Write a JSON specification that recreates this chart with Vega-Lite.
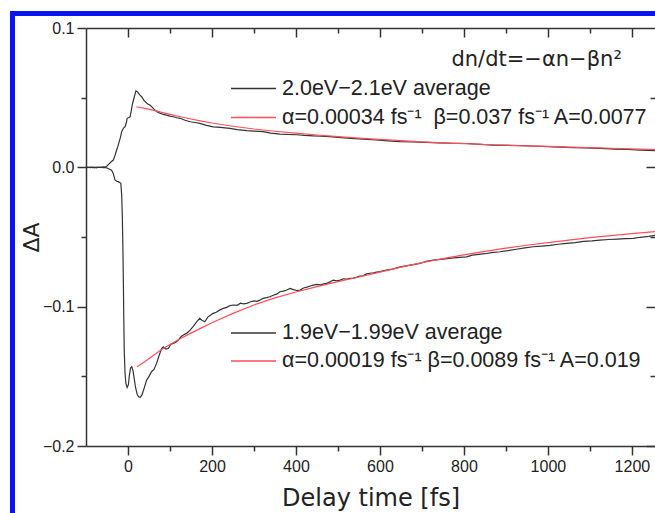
{
  "$schema": "https://vega.github.io/schema/vega-lite/v6.json",
  "width": 569,
  "height": 418,
  "autosize": {"type": "none"},
  "padding": {"left": 86, "top": 28, "right": 0, "bottom": 67},
  "background": "white",
  "config": {
    "view": {"stroke": null},
    "font": "Liberation Sans",
    "axis": {
      "domainColor": "#333333",
      "domainWidth": 1.5,
      "tickColor": "#333333",
      "tickWidth": 1.5,
      "labelColor": "#222222",
      "labelFontSize": 16,
      "labelFont": "Liberation Sans",
      "titleFont": "DejaVu Sans",
      "titleFontWeight": "normal",
      "titleColor": "#222222",
      "titleFontSize": 24,
      "gridColor": "#333333",
      "gridWidth": 1.5,
      "gridOpacity": 1,
      "zindex": 1
    },
    "legend": {
      "orient": "none",
      "title": null,
      "symbolType": "stroke",
      "symbolSize": 2025,
      "symbolStrokeWidth": 1.3,
      "labelFontSize": 21.5,
      "labelFont": "Liberation Sans",
      "labelColor": "#222222",
      "labelOffset": 5,
      "labelLimit": 600,
      "padding": 0,
      "rowPadding": 0
    }
  },
  "datasets": {
    "top": [
      {"t": -100, "dA": 0.0, "series": "2.0eV−2.1eV average"},
      {"t": -95, "dA": -0.0003, "series": "2.0eV−2.1eV average"},
      {"t": -90, "dA": 0.0002, "series": "2.0eV−2.1eV average"},
      {"t": -85, "dA": -0.0002, "series": "2.0eV−2.1eV average"},
      {"t": -80, "dA": 0.0001, "series": "2.0eV−2.1eV average"},
      {"t": -75, "dA": -0.0003, "series": "2.0eV−2.1eV average"},
      {"t": -70, "dA": 0.0002, "series": "2.0eV−2.1eV average"},
      {"t": -65, "dA": -0.0001, "series": "2.0eV−2.1eV average"},
      {"t": -60, "dA": 0.0003, "series": "2.0eV−2.1eV average"},
      {"t": -55, "dA": 0.0001, "series": "2.0eV−2.1eV average"},
      {"t": -50, "dA": 0.001, "series": "2.0eV−2.1eV average"},
      {"t": -45, "dA": 0.0025, "series": "2.0eV−2.1eV average"},
      {"t": -40, "dA": 0.004, "series": "2.0eV−2.1eV average"},
      {"t": -35, "dA": 0.0052, "series": "2.0eV−2.1eV average"},
      {"t": -31, "dA": 0.0085, "series": "2.0eV−2.1eV average"},
      {"t": -27, "dA": 0.0124, "series": "2.0eV−2.1eV average"},
      {"t": -24, "dA": 0.015, "series": "2.0eV−2.1eV average"},
      {"t": -21, "dA": 0.0184, "series": "2.0eV−2.1eV average"},
      {"t": -18, "dA": 0.0215, "series": "2.0eV−2.1eV average"},
      {"t": -15, "dA": 0.0256, "series": "2.0eV−2.1eV average"},
      {"t": -11, "dA": 0.028, "series": "2.0eV−2.1eV average"},
      {"t": -7, "dA": 0.0291, "series": "2.0eV−2.1eV average"},
      {"t": -4, "dA": 0.032, "series": "2.0eV−2.1eV average"},
      {"t": -2, "dA": 0.0352, "series": "2.0eV−2.1eV average"},
      {"t": 2, "dA": 0.0358, "series": "2.0eV−2.1eV average"},
      {"t": 5, "dA": 0.0363, "series": "2.0eV−2.1eV average"},
      {"t": 8, "dA": 0.041, "series": "2.0eV−2.1eV average"},
      {"t": 11, "dA": 0.046, "series": "2.0eV−2.1eV average"},
      {"t": 15, "dA": 0.0505, "series": "2.0eV−2.1eV average"},
      {"t": 19, "dA": 0.055, "series": "2.0eV−2.1eV average"},
      {"t": 23, "dA": 0.054, "series": "2.0eV−2.1eV average"},
      {"t": 28, "dA": 0.052, "series": "2.0eV−2.1eV average"},
      {"t": 33, "dA": 0.0505, "series": "2.0eV−2.1eV average"},
      {"t": 38, "dA": 0.048, "series": "2.0eV−2.1eV average"},
      {"t": 42, "dA": 0.0468, "series": "2.0eV−2.1eV average"},
      {"t": 47, "dA": 0.0455, "series": "2.0eV−2.1eV average"},
      {"t": 52, "dA": 0.0447, "series": "2.0eV−2.1eV average"},
      {"t": 58, "dA": 0.043, "series": "2.0eV−2.1eV average"},
      {"t": 64, "dA": 0.0411, "series": "2.0eV−2.1eV average"},
      {"t": 70, "dA": 0.0398, "series": "2.0eV−2.1eV average"},
      {"t": 76, "dA": 0.0388, "series": "2.0eV−2.1eV average"},
      {"t": 84, "dA": 0.038, "series": "2.0eV−2.1eV average"},
      {"t": 92, "dA": 0.0375, "series": "2.0eV−2.1eV average"},
      {"t": 100, "dA": 0.0368, "series": "2.0eV−2.1eV average"},
      {"t": 108, "dA": 0.0363, "series": "2.0eV−2.1eV average"},
      {"t": 116, "dA": 0.0356, "series": "2.0eV−2.1eV average"},
      {"t": 124, "dA": 0.0352, "series": "2.0eV−2.1eV average"},
      {"t": 136, "dA": 0.0338, "series": "2.0eV−2.1eV average"},
      {"t": 148, "dA": 0.0327, "series": "2.0eV−2.1eV average"},
      {"t": 160, "dA": 0.0322, "series": "2.0eV−2.1eV average"},
      {"t": 171, "dA": 0.0316, "series": "2.0eV−2.1eV average"},
      {"t": 185, "dA": 0.0303, "series": "2.0eV−2.1eV average"},
      {"t": 203, "dA": 0.0291, "series": "2.0eV−2.1eV average"},
      {"t": 220, "dA": 0.0287, "series": "2.0eV−2.1eV average"},
      {"t": 243, "dA": 0.028, "series": "2.0eV−2.1eV average"},
      {"t": 260, "dA": 0.027, "series": "2.0eV−2.1eV average"},
      {"t": 283, "dA": 0.0263, "series": "2.0eV−2.1eV average"},
      {"t": 300, "dA": 0.026, "series": "2.0eV−2.1eV average"},
      {"t": 322, "dA": 0.0256, "series": "2.0eV−2.1eV average"},
      {"t": 340, "dA": 0.0246, "series": "2.0eV−2.1eV average"},
      {"t": 362, "dA": 0.0239, "series": "2.0eV−2.1eV average"},
      {"t": 380, "dA": 0.0236, "series": "2.0eV−2.1eV average"},
      {"t": 402, "dA": 0.0234, "series": "2.0eV−2.1eV average"},
      {"t": 420, "dA": 0.0229, "series": "2.0eV−2.1eV average"},
      {"t": 441, "dA": 0.0226, "series": "2.0eV−2.1eV average"},
      {"t": 460, "dA": 0.0223, "series": "2.0eV−2.1eV average"},
      {"t": 481, "dA": 0.022, "series": "2.0eV−2.1eV average"},
      {"t": 500, "dA": 0.0215, "series": "2.0eV−2.1eV average"},
      {"t": 530, "dA": 0.0208, "series": "2.0eV−2.1eV average"},
      {"t": 560, "dA": 0.0203, "series": "2.0eV−2.1eV average"},
      {"t": 590, "dA": 0.0196, "series": "2.0eV−2.1eV average"},
      {"t": 620, "dA": 0.019, "series": "2.0eV−2.1eV average"},
      {"t": 648, "dA": 0.0185, "series": "2.0eV−2.1eV average"},
      {"t": 680, "dA": 0.0182, "series": "2.0eV−2.1eV average"},
      {"t": 710, "dA": 0.0179, "series": "2.0eV−2.1eV average"},
      {"t": 740, "dA": 0.0176, "series": "2.0eV−2.1eV average"},
      {"t": 770, "dA": 0.0173, "series": "2.0eV−2.1eV average"},
      {"t": 806, "dA": 0.0171, "series": "2.0eV−2.1eV average"},
      {"t": 840, "dA": 0.0165, "series": "2.0eV−2.1eV average"},
      {"t": 870, "dA": 0.016, "series": "2.0eV−2.1eV average"},
      {"t": 900, "dA": 0.0158, "series": "2.0eV−2.1eV average"},
      {"t": 935, "dA": 0.0156, "series": "2.0eV−2.1eV average"},
      {"t": 965, "dA": 0.0153, "series": "2.0eV−2.1eV average"},
      {"t": 1000, "dA": 0.0149, "series": "2.0eV−2.1eV average"},
      {"t": 1030, "dA": 0.0145, "series": "2.0eV−2.1eV average"},
      {"t": 1060, "dA": 0.0141, "series": "2.0eV−2.1eV average"},
      {"t": 1090, "dA": 0.0139, "series": "2.0eV−2.1eV average"},
      {"t": 1124, "dA": 0.0136, "series": "2.0eV−2.1eV average"},
      {"t": 1160, "dA": 0.0131, "series": "2.0eV−2.1eV average"},
      {"t": 1190, "dA": 0.0128, "series": "2.0eV−2.1eV average"},
      {"t": 1220, "dA": 0.0124, "series": "2.0eV−2.1eV average"},
      {"t": 1255, "dA": 0.012, "series": "2.0eV−2.1eV average"},
      {"t": 20, "dA": 0.0435, "series": "α=0.00034 fs⁻¹  β=0.037 fs⁻¹ A=0.0077"},
      {"t": 40, "dA": 0.0423, "series": "α=0.00034 fs⁻¹  β=0.037 fs⁻¹ A=0.0077"},
      {"t": 60, "dA": 0.0411, "series": "α=0.00034 fs⁻¹  β=0.037 fs⁻¹ A=0.0077"},
      {"t": 80, "dA": 0.0395, "series": "α=0.00034 fs⁻¹  β=0.037 fs⁻¹ A=0.0077"},
      {"t": 100, "dA": 0.038, "series": "α=0.00034 fs⁻¹  β=0.037 fs⁻¹ A=0.0077"},
      {"t": 125, "dA": 0.0363, "series": "α=0.00034 fs⁻¹  β=0.037 fs⁻¹ A=0.0077"},
      {"t": 150, "dA": 0.0347, "series": "α=0.00034 fs⁻¹  β=0.037 fs⁻¹ A=0.0077"},
      {"t": 175, "dA": 0.0332, "series": "α=0.00034 fs⁻¹  β=0.037 fs⁻¹ A=0.0077"},
      {"t": 200, "dA": 0.0318, "series": "α=0.00034 fs⁻¹  β=0.037 fs⁻¹ A=0.0077"},
      {"t": 250, "dA": 0.0295, "series": "α=0.00034 fs⁻¹  β=0.037 fs⁻¹ A=0.0077"},
      {"t": 300, "dA": 0.0275, "series": "α=0.00034 fs⁻¹  β=0.037 fs⁻¹ A=0.0077"},
      {"t": 350, "dA": 0.0259, "series": "α=0.00034 fs⁻¹  β=0.037 fs⁻¹ A=0.0077"},
      {"t": 400, "dA": 0.0245, "series": "α=0.00034 fs⁻¹  β=0.037 fs⁻¹ A=0.0077"},
      {"t": 450, "dA": 0.0232, "series": "α=0.00034 fs⁻¹  β=0.037 fs⁻¹ A=0.0077"},
      {"t": 500, "dA": 0.0221, "series": "α=0.00034 fs⁻¹  β=0.037 fs⁻¹ A=0.0077"},
      {"t": 550, "dA": 0.021, "series": "α=0.00034 fs⁻¹  β=0.037 fs⁻¹ A=0.0077"},
      {"t": 600, "dA": 0.02, "series": "α=0.00034 fs⁻¹  β=0.037 fs⁻¹ A=0.0077"},
      {"t": 650, "dA": 0.0191, "series": "α=0.00034 fs⁻¹  β=0.037 fs⁻¹ A=0.0077"},
      {"t": 700, "dA": 0.0183, "series": "α=0.00034 fs⁻¹  β=0.037 fs⁻¹ A=0.0077"},
      {"t": 750, "dA": 0.0176, "series": "α=0.00034 fs⁻¹  β=0.037 fs⁻¹ A=0.0077"},
      {"t": 800, "dA": 0.017, "series": "α=0.00034 fs⁻¹  β=0.037 fs⁻¹ A=0.0077"},
      {"t": 850, "dA": 0.0164, "series": "α=0.00034 fs⁻¹  β=0.037 fs⁻¹ A=0.0077"},
      {"t": 900, "dA": 0.0159, "series": "α=0.00034 fs⁻¹  β=0.037 fs⁻¹ A=0.0077"},
      {"t": 950, "dA": 0.0154, "series": "α=0.00034 fs⁻¹  β=0.037 fs⁻¹ A=0.0077"},
      {"t": 1000, "dA": 0.015, "series": "α=0.00034 fs⁻¹  β=0.037 fs⁻¹ A=0.0077"},
      {"t": 1050, "dA": 0.0145, "series": "α=0.00034 fs⁻¹  β=0.037 fs⁻¹ A=0.0077"},
      {"t": 1100, "dA": 0.0141, "series": "α=0.00034 fs⁻¹  β=0.037 fs⁻¹ A=0.0077"},
      {"t": 1150, "dA": 0.0137, "series": "α=0.00034 fs⁻¹  β=0.037 fs⁻¹ A=0.0077"},
      {"t": 1200, "dA": 0.0132, "series": "α=0.00034 fs⁻¹  β=0.037 fs⁻¹ A=0.0077"},
      {"t": 1255, "dA": 0.0127, "series": "α=0.00034 fs⁻¹  β=0.037 fs⁻¹ A=0.0077"}
    ],
    "bottom": [
      {"t": -100, "dA": 0.0, "series": "1.9eV−1.99eV average"},
      {"t": -95, "dA": 0.0002, "series": "1.9eV−1.99eV average"},
      {"t": -90, "dA": -0.0002, "series": "1.9eV−1.99eV average"},
      {"t": -85, "dA": 0.0001, "series": "1.9eV−1.99eV average"},
      {"t": -80, "dA": -0.0003, "series": "1.9eV−1.99eV average"},
      {"t": -75, "dA": 0.0002, "series": "1.9eV−1.99eV average"},
      {"t": -70, "dA": -0.0001, "series": "1.9eV−1.99eV average"},
      {"t": -65, "dA": 0.0002, "series": "1.9eV−1.99eV average"},
      {"t": -60, "dA": -0.0002, "series": "1.9eV−1.99eV average"},
      {"t": -55, "dA": 0.0, "series": "1.9eV−1.99eV average"},
      {"t": -50, "dA": -0.0005, "series": "1.9eV−1.99eV average"},
      {"t": -45, "dA": -0.0012, "series": "1.9eV−1.99eV average"},
      {"t": -39, "dA": -0.002, "series": "1.9eV−1.99eV average"},
      {"t": -35, "dA": -0.0045, "series": "1.9eV−1.99eV average"},
      {"t": -31, "dA": -0.009, "series": "1.9eV−1.99eV average"},
      {"t": -27, "dA": -0.01, "series": "1.9eV−1.99eV average"},
      {"t": -23, "dA": -0.0103, "series": "1.9eV−1.99eV average"},
      {"t": -19, "dA": -0.011, "series": "1.9eV−1.99eV average"},
      {"t": -17, "dA": -0.0115, "series": "1.9eV−1.99eV average"},
      {"t": -15, "dA": -0.02, "series": "1.9eV−1.99eV average"},
      {"t": -13.5, "dA": -0.0355, "series": "1.9eV−1.99eV average"},
      {"t": -12, "dA": -0.06, "series": "1.9eV−1.99eV average"},
      {"t": -11, "dA": -0.083, "series": "1.9eV−1.99eV average"},
      {"t": -10, "dA": -0.108, "series": "1.9eV−1.99eV average"},
      {"t": -9, "dA": -0.131, "series": "1.9eV−1.99eV average"},
      {"t": -7, "dA": -0.148, "series": "1.9eV−1.99eV average"},
      {"t": -5, "dA": -0.155, "series": "1.9eV−1.99eV average"},
      {"t": -2, "dA": -0.158, "series": "1.9eV−1.99eV average"},
      {"t": 1, "dA": -0.156, "series": "1.9eV−1.99eV average"},
      {"t": 3, "dA": -0.15, "series": "1.9eV−1.99eV average"},
      {"t": 6, "dA": -0.144, "series": "1.9eV−1.99eV average"},
      {"t": 9, "dA": -0.143, "series": "1.9eV−1.99eV average"},
      {"t": 12, "dA": -0.146, "series": "1.9eV−1.99eV average"},
      {"t": 14, "dA": -0.15, "series": "1.9eV−1.99eV average"},
      {"t": 18, "dA": -0.158, "series": "1.9eV−1.99eV average"},
      {"t": 22, "dA": -0.163, "series": "1.9eV−1.99eV average"},
      {"t": 25, "dA": -0.1647, "series": "1.9eV−1.99eV average"},
      {"t": 29, "dA": -0.165, "series": "1.9eV−1.99eV average"},
      {"t": 33, "dA": -0.1635, "series": "1.9eV−1.99eV average"},
      {"t": 38, "dA": -0.159, "series": "1.9eV−1.99eV average"},
      {"t": 44, "dA": -0.153, "series": "1.9eV−1.99eV average"},
      {"t": 50, "dA": -0.15, "series": "1.9eV−1.99eV average"},
      {"t": 56, "dA": -0.1467, "series": "1.9eV−1.99eV average"},
      {"t": 62, "dA": -0.145, "series": "1.9eV−1.99eV average"},
      {"t": 68, "dA": -0.1407, "series": "1.9eV−1.99eV average"},
      {"t": 72, "dA": -0.137, "series": "1.9eV−1.99eV average"},
      {"t": 76, "dA": -0.1335, "series": "1.9eV−1.99eV average"},
      {"t": 80, "dA": -0.13, "series": "1.9eV−1.99eV average"},
      {"t": 84, "dA": -0.1288, "series": "1.9eV−1.99eV average"},
      {"t": 90, "dA": -0.1305, "series": "1.9eV−1.99eV average"},
      {"t": 96, "dA": -0.13, "series": "1.9eV−1.99eV average"},
      {"t": 102, "dA": -0.127, "series": "1.9eV−1.99eV average"},
      {"t": 108, "dA": -0.1264, "series": "1.9eV−1.99eV average"},
      {"t": 114, "dA": -0.1255, "series": "1.9eV−1.99eV average"},
      {"t": 120, "dA": -0.124, "series": "1.9eV−1.99eV average"},
      {"t": 126, "dA": -0.1215, "series": "1.9eV−1.99eV average"},
      {"t": 132, "dA": -0.1204, "series": "1.9eV−1.99eV average"},
      {"t": 140, "dA": -0.119, "series": "1.9eV−1.99eV average"},
      {"t": 148, "dA": -0.1168, "series": "1.9eV−1.99eV average"},
      {"t": 156, "dA": -0.114, "series": "1.9eV−1.99eV average"},
      {"t": 164, "dA": -0.1108, "series": "1.9eV−1.99eV average"},
      {"t": 171, "dA": -0.1084, "series": "1.9eV−1.99eV average"},
      {"t": 177, "dA": -0.11, "series": "1.9eV−1.99eV average"},
      {"t": 183, "dA": -0.1108, "series": "1.9eV−1.99eV average"},
      {"t": 190, "dA": -0.1075, "series": "1.9eV−1.99eV average"},
      {"t": 197, "dA": -0.106, "series": "1.9eV−1.99eV average"},
      {"t": 203, "dA": -0.1048, "series": "1.9eV−1.99eV average"},
      {"t": 210, "dA": -0.104, "series": "1.9eV−1.99eV average"},
      {"t": 218, "dA": -0.1025, "series": "1.9eV−1.99eV average"},
      {"t": 227, "dA": -0.1012, "series": "1.9eV−1.99eV average"},
      {"t": 235, "dA": -0.1005, "series": "1.9eV−1.99eV average"},
      {"t": 243, "dA": -0.0992, "series": "1.9eV−1.99eV average"},
      {"t": 251, "dA": -0.0988, "series": "1.9eV−1.99eV average"},
      {"t": 260, "dA": -0.099, "series": "1.9eV−1.99eV average"},
      {"t": 268, "dA": -0.0975, "series": "1.9eV−1.99eV average"},
      {"t": 275, "dA": -0.098, "series": "1.9eV−1.99eV average"},
      {"t": 283, "dA": -0.0976, "series": "1.9eV−1.99eV average"},
      {"t": 292, "dA": -0.0965, "series": "1.9eV−1.99eV average"},
      {"t": 300, "dA": -0.0958, "series": "1.9eV−1.99eV average"},
      {"t": 307, "dA": -0.0962, "series": "1.9eV−1.99eV average"},
      {"t": 314, "dA": -0.0953, "series": "1.9eV−1.99eV average"},
      {"t": 322, "dA": -0.094, "series": "1.9eV−1.99eV average"},
      {"t": 330, "dA": -0.0935, "series": "1.9eV−1.99eV average"},
      {"t": 338, "dA": -0.0929, "series": "1.9eV−1.99eV average"},
      {"t": 346, "dA": -0.0918, "series": "1.9eV−1.99eV average"},
      {"t": 354, "dA": -0.091, "series": "1.9eV−1.99eV average"},
      {"t": 362, "dA": -0.0893, "series": "1.9eV−1.99eV average"},
      {"t": 370, "dA": -0.0888, "series": "1.9eV−1.99eV average"},
      {"t": 378, "dA": -0.088, "series": "1.9eV−1.99eV average"},
      {"t": 386, "dA": -0.0869, "series": "1.9eV−1.99eV average"},
      {"t": 394, "dA": -0.0878, "series": "1.9eV−1.99eV average"},
      {"t": 402, "dA": -0.0884, "series": "1.9eV−1.99eV average"},
      {"t": 410, "dA": -0.0881, "series": "1.9eV−1.99eV average"},
      {"t": 418, "dA": -0.0866, "series": "1.9eV−1.99eV average"},
      {"t": 426, "dA": -0.086, "series": "1.9eV−1.99eV average"},
      {"t": 434, "dA": -0.0852, "series": "1.9eV−1.99eV average"},
      {"t": 441, "dA": -0.0845, "series": "1.9eV−1.99eV average"},
      {"t": 450, "dA": -0.084, "series": "1.9eV−1.99eV average"},
      {"t": 458, "dA": -0.0843, "series": "1.9eV−1.99eV average"},
      {"t": 466, "dA": -0.0836, "series": "1.9eV−1.99eV average"},
      {"t": 473, "dA": -0.0833, "series": "1.9eV−1.99eV average"},
      {"t": 481, "dA": -0.0822, "series": "1.9eV−1.99eV average"},
      {"t": 489, "dA": -0.0809, "series": "1.9eV−1.99eV average"},
      {"t": 497, "dA": -0.0815, "series": "1.9eV−1.99eV average"},
      {"t": 505, "dA": -0.0809, "series": "1.9eV−1.99eV average"},
      {"t": 513, "dA": -0.08, "series": "1.9eV−1.99eV average"},
      {"t": 521, "dA": -0.0803, "series": "1.9eV−1.99eV average"},
      {"t": 528, "dA": -0.0797, "series": "1.9eV−1.99eV average"},
      {"t": 536, "dA": -0.0797, "series": "1.9eV−1.99eV average"},
      {"t": 545, "dA": -0.0788, "series": "1.9eV−1.99eV average"},
      {"t": 552, "dA": -0.078, "series": "1.9eV−1.99eV average"},
      {"t": 560, "dA": -0.0778, "series": "1.9eV−1.99eV average"},
      {"t": 568, "dA": -0.0765, "series": "1.9eV−1.99eV average"},
      {"t": 576, "dA": -0.076, "series": "1.9eV−1.99eV average"},
      {"t": 585, "dA": -0.0758, "series": "1.9eV−1.99eV average"},
      {"t": 592, "dA": -0.0752, "series": "1.9eV−1.99eV average"},
      {"t": 600, "dA": -0.0748, "series": "1.9eV−1.99eV average"},
      {"t": 615, "dA": -0.0738, "series": "1.9eV−1.99eV average"},
      {"t": 630, "dA": -0.073, "series": "1.9eV−1.99eV average"},
      {"t": 648, "dA": -0.0714, "series": "1.9eV−1.99eV average"},
      {"t": 665, "dA": -0.0705, "series": "1.9eV−1.99eV average"},
      {"t": 680, "dA": -0.0698, "series": "1.9eV−1.99eV average"},
      {"t": 695, "dA": -0.069, "series": "1.9eV−1.99eV average"},
      {"t": 710, "dA": -0.0675, "series": "1.9eV−1.99eV average"},
      {"t": 727, "dA": -0.0666, "series": "1.9eV−1.99eV average"},
      {"t": 745, "dA": -0.066, "series": "1.9eV−1.99eV average"},
      {"t": 760, "dA": -0.0655, "series": "1.9eV−1.99eV average"},
      {"t": 775, "dA": -0.065, "series": "1.9eV−1.99eV average"},
      {"t": 790, "dA": -0.0646, "series": "1.9eV−1.99eV average"},
      {"t": 806, "dA": -0.0642, "series": "1.9eV−1.99eV average"},
      {"t": 820, "dA": -0.063, "series": "1.9eV−1.99eV average"},
      {"t": 835, "dA": -0.0625, "series": "1.9eV−1.99eV average"},
      {"t": 850, "dA": -0.062, "series": "1.9eV−1.99eV average"},
      {"t": 866, "dA": -0.0612, "series": "1.9eV−1.99eV average"},
      {"t": 886, "dA": -0.0606, "series": "1.9eV−1.99eV average"},
      {"t": 905, "dA": -0.0598, "series": "1.9eV−1.99eV average"},
      {"t": 925, "dA": -0.0588, "series": "1.9eV−1.99eV average"},
      {"t": 945, "dA": -0.0578, "series": "1.9eV−1.99eV average"},
      {"t": 965, "dA": -0.057, "series": "1.9eV−1.99eV average"},
      {"t": 985, "dA": -0.0565, "series": "1.9eV−1.99eV average"},
      {"t": 1005, "dA": -0.056, "series": "1.9eV−1.99eV average"},
      {"t": 1025, "dA": -0.0552, "series": "1.9eV−1.99eV average"},
      {"t": 1044, "dA": -0.0546, "series": "1.9eV−1.99eV average"},
      {"t": 1065, "dA": -0.054, "series": "1.9eV−1.99eV average"},
      {"t": 1085, "dA": -0.0532, "series": "1.9eV−1.99eV average"},
      {"t": 1105, "dA": -0.0528, "series": "1.9eV−1.99eV average"},
      {"t": 1124, "dA": -0.0522, "series": "1.9eV−1.99eV average"},
      {"t": 1145, "dA": -0.0518, "series": "1.9eV−1.99eV average"},
      {"t": 1165, "dA": -0.0515, "series": "1.9eV−1.99eV average"},
      {"t": 1185, "dA": -0.0512, "series": "1.9eV−1.99eV average"},
      {"t": 1203, "dA": -0.051, "series": "1.9eV−1.99eV average"},
      {"t": 1220, "dA": -0.0502, "series": "1.9eV−1.99eV average"},
      {"t": 1240, "dA": -0.0495, "series": "1.9eV−1.99eV average"},
      {"t": 1255, "dA": -0.0488, "series": "1.9eV−1.99eV average"},
      {"t": 21, "dA": -0.1431, "series": "α=0.00019 fs⁻¹ β=0.0089 fs⁻¹ A=0.019"},
      {"t": 40, "dA": -0.1395, "series": "α=0.00019 fs⁻¹ β=0.0089 fs⁻¹ A=0.019"},
      {"t": 60, "dA": -0.135, "series": "α=0.00019 fs⁻¹ β=0.0089 fs⁻¹ A=0.019"},
      {"t": 80, "dA": -0.1308, "series": "α=0.00019 fs⁻¹ β=0.0089 fs⁻¹ A=0.019"},
      {"t": 100, "dA": -0.1272, "series": "α=0.00019 fs⁻¹ β=0.0089 fs⁻¹ A=0.019"},
      {"t": 125, "dA": -0.1228, "series": "α=0.00019 fs⁻¹ β=0.0089 fs⁻¹ A=0.019"},
      {"t": 150, "dA": -0.119, "series": "α=0.00019 fs⁻¹ β=0.0089 fs⁻¹ A=0.019"},
      {"t": 175, "dA": -0.1152, "series": "α=0.00019 fs⁻¹ β=0.0089 fs⁻¹ A=0.019"},
      {"t": 200, "dA": -0.1115, "series": "α=0.00019 fs⁻¹ β=0.0089 fs⁻¹ A=0.019"},
      {"t": 250, "dA": -0.1048, "series": "α=0.00019 fs⁻¹ β=0.0089 fs⁻¹ A=0.019"},
      {"t": 300, "dA": -0.0988, "series": "α=0.00019 fs⁻¹ β=0.0089 fs⁻¹ A=0.019"},
      {"t": 350, "dA": -0.0937, "series": "α=0.00019 fs⁻¹ β=0.0089 fs⁻¹ A=0.019"},
      {"t": 400, "dA": -0.0895, "series": "α=0.00019 fs⁻¹ β=0.0089 fs⁻¹ A=0.019"},
      {"t": 450, "dA": -0.0856, "series": "α=0.00019 fs⁻¹ β=0.0089 fs⁻¹ A=0.019"},
      {"t": 500, "dA": -0.082, "series": "α=0.00019 fs⁻¹ β=0.0089 fs⁻¹ A=0.019"},
      {"t": 550, "dA": -0.0787, "series": "α=0.00019 fs⁻¹ β=0.0089 fs⁻¹ A=0.019"},
      {"t": 600, "dA": -0.0752, "series": "α=0.00019 fs⁻¹ β=0.0089 fs⁻¹ A=0.019"},
      {"t": 650, "dA": -0.0716, "series": "α=0.00019 fs⁻¹ β=0.0089 fs⁻¹ A=0.019"},
      {"t": 700, "dA": -0.0684, "series": "α=0.00019 fs⁻¹ β=0.0089 fs⁻¹ A=0.019"},
      {"t": 750, "dA": -0.0655, "series": "α=0.00019 fs⁻¹ β=0.0089 fs⁻¹ A=0.019"},
      {"t": 800, "dA": -0.0628, "series": "α=0.00019 fs⁻¹ β=0.0089 fs⁻¹ A=0.019"},
      {"t": 850, "dA": -0.0603, "series": "α=0.00019 fs⁻¹ β=0.0089 fs⁻¹ A=0.019"},
      {"t": 900, "dA": -0.058, "series": "α=0.00019 fs⁻¹ β=0.0089 fs⁻¹ A=0.019"},
      {"t": 950, "dA": -0.0559, "series": "α=0.00019 fs⁻¹ β=0.0089 fs⁻¹ A=0.019"},
      {"t": 1000, "dA": -0.054, "series": "α=0.00019 fs⁻¹ β=0.0089 fs⁻¹ A=0.019"},
      {"t": 1050, "dA": -0.0522, "series": "α=0.00019 fs⁻¹ β=0.0089 fs⁻¹ A=0.019"},
      {"t": 1100, "dA": -0.0505, "series": "α=0.00019 fs⁻¹ β=0.0089 fs⁻¹ A=0.019"},
      {"t": 1150, "dA": -0.049, "series": "α=0.00019 fs⁻¹ β=0.0089 fs⁻¹ A=0.019"},
      {"t": 1200, "dA": -0.0476, "series": "α=0.00019 fs⁻¹ β=0.0089 fs⁻¹ A=0.019"},
      {"t": 1255, "dA": -0.0462, "series": "α=0.00019 fs⁻¹ β=0.0089 fs⁻¹ A=0.019"}
    ]
  },
  "layer": [
    {
      "data": {"values": [{"frame": "figure border"}]},
      "mark": {"type": "rect", "fill": null, "stroke": "#0a14f0", "strokeWidth": 5, "clip": false},
      "encoding": {
        "x": {"datum": -275, "type": "quantitative", "axis": null},
        "x2": {"datum": 1500},
        "y": {"datum": 0.1104, "type": "quantitative", "axis": null},
        "y2": {"datum": -0.35}
      }
    },
    {
      "data": {"values": [{"label": "dn/dt=−αn−βn²"}]},
      "mark": {"type": "text", "align": "right", "baseline": "middle", "font": "DejaVu Sans", "fontSize": 21, "color": "#222222"},
      "encoding": {
        "x": {"datum": 1176, "type": "quantitative", "axis": null},
        "y": {"datum": 0.077, "type": "quantitative", "axis": null},
        "text": {"field": "label"}
      }
    },
    {
      "data": {"name": "top"},
      "mark": {"type": "line", "strokeWidth": 1.2, "clip": true},
      "encoding": {
        "x": {
          "field": "t",
          "type": "quantitative",
          "scale": {"domain": [-100, 1255], "nice": false, "zero": false},
          "axis": {
            "orient": "bottom",
            "title": "Delay time [fs]",
            "values": [0, 100, 200, 300, 400, 500, 600, 700, 800, 900, 1000, 1100, 1200],
            "labelExpr": "datum.value % 200 === 0 ? datum.label : ''",
            "format": "d",
            "tickSize": {"condition": {"test": "datum.value % 200 === 0", "value": 9}, "value": 5},
            "labelPadding": 3,
            "titlePadding": 12,
            "grid": true,
            "gridDash": {"condition": {"test": "datum.value % 200 === 0", "value": [9, 409]}, "value": [5, 413]},
            "gridDashOffset": 0
          }
        },
        "y": {
          "field": "dA",
          "type": "quantitative",
          "scale": {"domain": [-0.2, 0.1], "nice": false, "zero": false},
          "axis": {
            "orient": "left",
            "title": "ΔA",
            "titleFontSize": 22,
            "values": [-0.2, -0.15, -0.1, -0.05, 0, 0.05, 0.1],
            "format": ".1f",
            "labelExpr": "abs(datum.value * 20) % 2 < 0.5 ? datum.label : ''",
            "tickSize": {"condition": {"test": "abs(datum.value * 20) % 2 < 0.5", "value": 9}, "value": 5},
            "labelPadding": 3,
            "titlePadding": -1,
            "grid": true,
            "gridDash": {
              "condition": [
                {"test": "datum.value > 0.09", "value": [600, 0]},
                {"test": "abs(datum.value * 20) % 2 < 0.5", "value": [9, 560]}
              ],
              "value": [5, 564]
            },
            "gridDashOffset": {
              "condition": [
                {"test": "datum.value > 0.09", "value": 0},
                {"test": "abs(datum.value * 20) % 2 < 0.5", "value": 9}
              ],
              "value": 5
            }
          }
        },
        "color": {
          "field": "series",
          "type": "nominal",
          "scale": {
            "domain": ["2.0eV−2.1eV average", "α=0.00034 fs⁻¹  β=0.037 fs⁻¹ A=0.0077"],
            "range": ["#333333", "#ff4d5a"]
          },
          "legend": {"legendX": 144, "legendY": 46, "clipHeight": 29, "labelExpr": "replace(datum.label, '  ', ' \u00a0')"}
        }
      }
    },
    {
      "data": {"name": "bottom"},
      "mark": {"type": "line", "strokeWidth": 1.2, "clip": true},
      "encoding": {
        "x": {"field": "t", "type": "quantitative", "axis": null},
        "y": {"field": "dA", "type": "quantitative", "axis": null},
        "color": {
          "field": "series",
          "type": "nominal",
          "scale": {
            "domain": ["1.9eV−1.99eV average", "α=0.00019 fs⁻¹ β=0.0089 fs⁻¹ A=0.019"],
            "range": ["#333333", "#ff4d5a"]
          },
          "legend": {"legendX": 144, "legendY": 291, "clipHeight": 28}
        }
      }
    }
  ],
  "resolve": {
    "scale": {"color": "independent"},
    "legend": {"color": "independent"},
    "axis": {"x": "independent", "y": "independent"}
  }
}
